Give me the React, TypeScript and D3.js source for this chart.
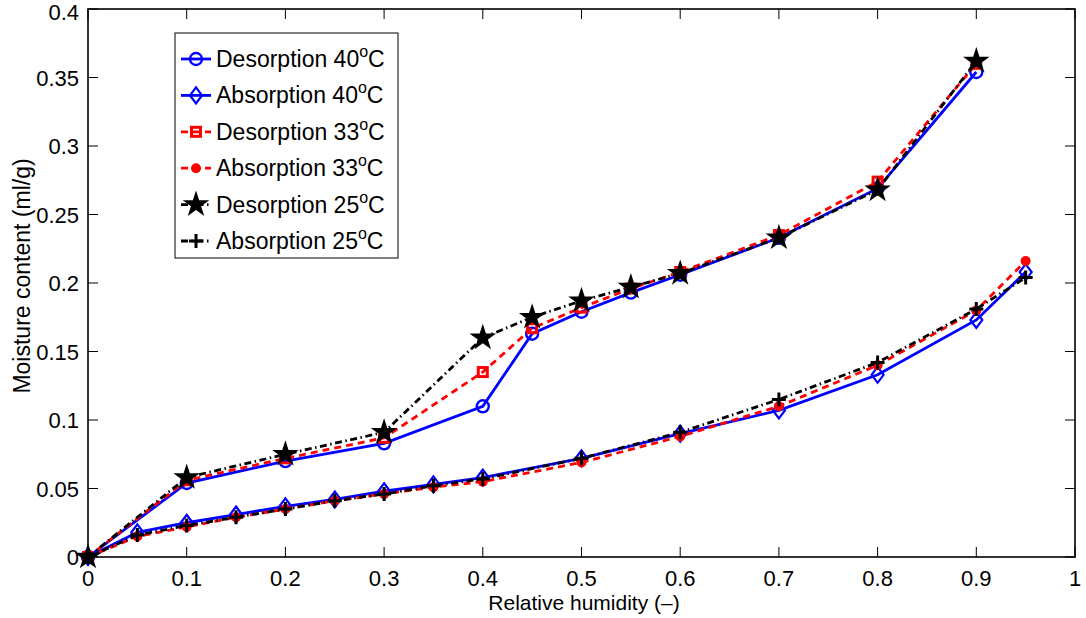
import React, { useEffect, useRef } from 'react';
import * as d3 from 'd3';

// relative humidity sample points
const rhDes = [0, 0.1, 0.2, 0.3, 0.4, 0.45, 0.5, 0.55, 0.6, 0.7, 0.8, 0.9];
const rhAbs = [0, 0.05, 0.1, 0.15, 0.2, 0.25, 0.3, 0.35, 0.4, 0.5, 0.6, 0.7, 0.8, 0.9, 0.95];

// moisture content (ml/g)
const des40 = [0, 0.054, 0.07, 0.083, 0.11, 0.163, 0.179, 0.193, 0.206, 0.233, 0.269, 0.354];
const abs40 = [0, 0.018, 0.025, 0.031, 0.037, 0.042, 0.048, 0.053, 0.058, 0.072, 0.09, 0.107, 0.133, 0.173, 0.208];
const des33 = [0, 0.056, 0.072, 0.087, 0.135, 0.167, 0.182, 0.196, 0.208, 0.235, 0.274, 0.36];
const abs33 = [0, 0.015, 0.022, 0.029, 0.035, 0.041, 0.046, 0.051, 0.055, 0.069, 0.088, 0.11, 0.14, 0.18, 0.216];
const des25 = [0, 0.058, 0.075, 0.091, 0.16, 0.175, 0.187, 0.197, 0.207, 0.233, 0.268, 0.362];
const abs25 = [0, 0.016, 0.023, 0.029, 0.035, 0.041, 0.046, 0.052, 0.057, 0.072, 0.091, 0.115, 0.142, 0.181, 0.204];

const seriesNames = ['Desorption 40', 'Absorption 40', 'Desorption 33', 'Absorption 33', 'Desorption 25', 'Absorption 25'];

const xTicks = [0, 0.1, 0.2, 0.3, 0.4, 0.5, 0.6, 0.7, 0.8, 0.9, 1];
const yTicks = [0, 0.05, 0.1, 0.15, 0.2, 0.25, 0.3, 0.35, 0.4];

const FONT = 'Liberation Sans, Arial, Helvetica, sans-serif';

const App = () => {
  const svgRef = useRef(null);

  useEffect(() => {
    document.body.style.margin = '0';
    const width = 1086;
    const height = 618;
    const left = 88, right = 1075, top = 9, bottom = 557;

    const x = d3.scaleLinear().domain([0, 1]).range([left, right]);
    const y = d3.scaleLinear().domain([0, 0.4]).range([bottom, top]);

    const series = [
      { name: seriesNames[0], xs: rhDes, ys: des40, color: '#0000ff', dash: null, marker: 'circle' },
      { name: seriesNames[1], xs: rhAbs, ys: abs40, color: '#0000ff', dash: null, marker: 'diamond' },
      { name: seriesNames[2], xs: rhDes, ys: des33, color: '#ff0000', dash: '7,5', marker: 'square' },
      { name: seriesNames[3], xs: rhAbs, ys: abs33, color: '#ff0000', dash: '7,5', marker: 'dot' },
      { name: seriesNames[4], xs: rhDes, ys: des25, color: '#000000', dash: '7,3.5,1.5,3.5', marker: 'star' },
      { name: seriesNames[5], xs: rhAbs, ys: abs25, color: '#000000', dash: '7,3.5,1.5,3.5', marker: 'plus' },
    ];

    const svg = d3.select(svgRef.current)
      .attr('width', width)
      .attr('height', height)
      .attr('viewBox', [0, 0, width, height])
      .style('display', 'block')
      .style('background', '#fff');
    svg.selectAll('*').remove();

    const drawMarker = (g, type, color, cx, cy) => {
      if (type === 'circle') {
        g.append('circle').attr('cx', cx).attr('cy', cy).attr('r', 6)
          .attr('fill', 'none').attr('stroke', color).attr('stroke-width', 2.4);
      } else if (type === 'diamond') {
        g.append('path').attr('d', `M${cx},${cy - 8}L${cx + 6},${cy}L${cx},${cy + 8}L${cx - 6},${cy}Z`)
          .attr('fill', 'none').attr('stroke', color).attr('stroke-width', 2.2);
      } else if (type === 'square') {
        g.append('rect').attr('x', cx - 4.5).attr('y', cy - 4.5).attr('width', 9).attr('height', 9)
          .attr('fill', 'none').attr('stroke', color).attr('stroke-width', 3);
      } else if (type === 'dot') {
        g.append('circle').attr('cx', cx).attr('cy', cy).attr('r', 5).attr('fill', color);
      } else if (type === 'star') {
        g.append('path')
          .attr('d', d3.symbol(d3.symbolStar, 220)())
          .attr('transform', `translate(${cx},${cy})`)
          .attr('fill', color);
      } else if (type === 'plus') {
        g.append('path').attr('d', `M${cx - 7},${cy}H${cx + 7}M${cx},${cy - 7}V${cy + 7}`)
          .attr('stroke', color).attr('stroke-width', 3);
      }
    };

    const line = d3.line().x(d => x(d[0])).y(d => y(d[1]));

    const plot = svg.append('g');
    series.forEach(s => {
      const pts = s.xs.map((v, i) => [v, s.ys[i]]);
      plot.append('path')
        .attr('d', line(pts))
        .attr('fill', 'none')
        .attr('stroke', s.color)
        .attr('stroke-width', 2.8)
        .attr('stroke-dasharray', s.dash);
      pts.forEach(p => drawMarker(plot, s.marker, s.color, x(p[0]), y(p[1])));
    });

    // axes box and mirrored ticks
    const axes = svg.append('g');
    axes.append('rect')
      .attr('x', left).attr('y', top)
      .attr('width', right - left).attr('height', bottom - top)
      .attr('fill', 'none').attr('stroke', '#000').attr('stroke-width', 1.6);

    const tl = 10;
    xTicks.forEach(t => {
      axes.append('line').attr('x1', x(t)).attr('x2', x(t)).attr('y1', bottom).attr('y2', bottom - tl)
        .attr('stroke', '#000').attr('stroke-width', 1);
      axes.append('line').attr('x1', x(t)).attr('x2', x(t)).attr('y1', top).attr('y2', top + tl)
        .attr('stroke', '#000').attr('stroke-width', 1);
      axes.append('text').attr('x', x(t)).attr('y', bottom + 29)
        .attr('text-anchor', 'middle').attr('font-family', FONT).attr('font-size', 22)
        .text(String(t));
    });
    yTicks.forEach(t => {
      axes.append('line').attr('x1', left).attr('x2', left + tl).attr('y1', y(t)).attr('y2', y(t))
        .attr('stroke', '#000').attr('stroke-width', 1);
      axes.append('line').attr('x1', right).attr('x2', right - tl).attr('y1', y(t)).attr('y2', y(t))
        .attr('stroke', '#000').attr('stroke-width', 1);
      axes.append('text').attr('x', left - 9).attr('y', Math.max(y(t) + 8, 20))
        .attr('text-anchor', 'end').attr('font-family', FONT).attr('font-size', 22)
        .text(String(t));
    });

    svg.append('text')
      .attr('x', 584).attr('y', 610)
      .attr('text-anchor', 'middle').attr('font-family', FONT).attr('font-size', 21)
      .text('Relative humidity (\u2013)');
    svg.append('text')
      .attr('transform', `translate(30,276) rotate(-90)`)
      .attr('text-anchor', 'middle').attr('font-family', FONT).attr('font-size', 23)
      .text('Moisture content (ml/g)');

    // legend
    const lg = svg.append('g');
    lg.append('rect').attr('x', 175).attr('y', 33).attr('width', 223).attr('height', 225)
      .attr('fill', '#fff').attr('stroke', '#000').attr('stroke-width', 1);
    series.forEach((s, i) => {
      const ly = 59 + i * 36.4;
      lg.append('line').attr('x1', 181).attr('x2', 211).attr('y1', ly).attr('y2', ly)
        .attr('stroke', s.color).attr('stroke-width', 2.8).attr('stroke-dasharray', s.dash);
      drawMarker(lg, s.marker, s.color, 196, ly);
      const txt = lg.append('text').attr('x', 216).attr('y', ly + 8)
        .attr('font-family', FONT).attr('font-size', 23);
      txt.append('tspan').text(s.name);
      txt.append('tspan').attr('dy', -10).attr('font-size', 16).text('o');
      txt.append('tspan').attr('dy', 10).text('C');
    });
  }, []);

  return <svg ref={svgRef}></svg>;
};

export default App;
